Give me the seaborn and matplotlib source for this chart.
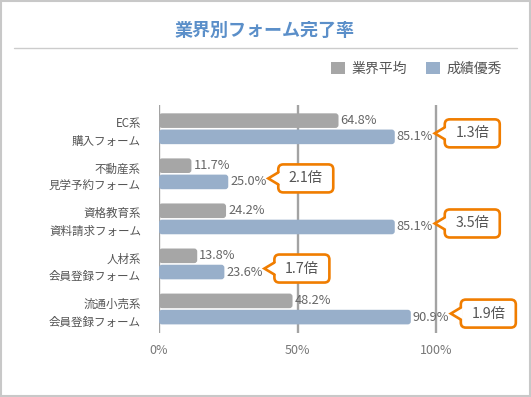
import pandas as pd
import matplotlib.pyplot as plt
import matplotlib.transforms as mtransforms
from matplotlib.patches import FancyBboxPatch, Polygon, Rectangle, Patch
from matplotlib.lines import Line2D
import seaborn as sns

sns.set_style("white")
plt.rcParams['font.family'] = ['Noto Sans CJK JP', 'DejaVu Sans']

# ----- data -----
categories = ["EC系\n購入フォーム", "不動産系\n見学予約フォーム", "資格教育系\n資料請求フォーム",
              "人材系\n会員登録フォーム", "流通小売系\n会員登録フォーム"]
industry_avg = [64.8, 11.7, 24.2, 13.8, 48.2]
top_performer = [85.1, 25.0, 85.1, 23.6, 90.9]
ratio_labels = ["1.3倍", "2.1倍", "3.5倍", "1.7倍", "1.9倍"]
series_names = ["業界平均", "成績優秀"]
x_ticks = [0, 50, 100]

GRAY = "#a6a6a6"
BLUE = "#98afca"
ORANGE = "#f07d00"
TEXT = "#666666"

df = pd.DataFrame({
    "category": categories * 2,
    "value": industry_avg + top_performer,
    "series": [series_names[0]] * len(categories) + [series_names[1]] * len(categories),
})

fig = plt.figure(figsize=(5.31, 3.97), dpi=100)
ax = fig.add_axes([159 / 531, 1 - 333 / 397, 354.6 / 531, 228 / 397])

sns.barplot(data=df, y="category", x="value", hue="series", orient="h",
            palette=[GRAY, BLUE], width=0.72, gap=0.1, ax=ax, legend=False,
            saturation=1)

ax.set_xlim(0, 128)
ax.set_ylim(4.533, -0.527)
ax.set_xticks(x_ticks)
ax.set_xticklabels([f"{t}%" for t in x_ticks])
ax.set_xlabel("")
ax.set_ylabel("")
for s in ax.spines.values():
    s.set_visible(False)
ax.xaxis.grid(True, color="#a3a3a3", lw=1.7)
ax.set_axisbelow(True)
ax.tick_params(axis="x", length=0, pad=8, labelsize=9, labelcolor="#777777")
ax.tick_params(axis="y", length=0, pad=13, labelsize=8.3, labelcolor="#555555")
for lab in ax.get_yticklabels():
    lab.set_linespacing(1.5)
    lab.set_horizontalalignment("right")

# ----- rounded bars + value labels -----
bars = list(ax.patches)
n = len(categories)
x_px = ax.bbox.width / (ax.get_xlim()[1] - ax.get_xlim()[0])
y_px = ax.bbox.height / abs(ax.get_ylim()[0] - ax.get_ylim()[1])
for b in bars[:2 * n]:
    x0, y0, w, h = b.get_x(), b.get_y(), b.get_width(), b.get_height()
    b.set_visible(False)
    ax.add_patch(FancyBboxPatch((x0, y0), w, h, boxstyle=f"round,pad=0,rounding_size={3 / x_px}",
                                mutation_aspect=x_px / y_px, fc=b.get_facecolor(),
                                ec="none", zorder=2))
    yc = y0 + h / 2
    tr = mtransforms.offset_copy(ax.transData, fig=fig, x=2, y=0, units="dots")
    ax.text(w, yc, f"{w:.1f}%", transform=tr, ha="left", va="center",
            fontsize=9.2, color=TEXT)

# ----- callouts -----
for i, b in enumerate(bars[n:2 * n]):
    v = b.get_width()
    yc = b.get_y() + b.get_height() / 2
    tr = mtransforms.Affine2D() + mtransforms.ScaledTranslation(v, yc, ax.transData)
    left, right, cy, h, tip = 50, 105, 3.5, 28, 40
    box = FancyBboxPatch((left, cy - h / 2), right - left, h,
                         boxstyle="round,pad=0,rounding_size=5",
                         fc="white", ec=ORANGE, lw=1.9, transform=tr,
                         clip_on=False, zorder=5)
    ax.add_artist(box)
    cover = Polygon([(left + 2, cy - 6), (tip, cy), (left + 2, cy + 6)],
                    closed=True, fc="white", ec="none", transform=tr,
                    clip_on=False, zorder=6)
    ax.add_artist(cover)
    ax.add_line(Line2D([left, tip, left], [cy - 6, cy, cy + 6], color=ORANGE,
                       lw=1.9, transform=tr, clip_on=False, zorder=7,
                       solid_joinstyle="miter"))
    ttr = mtransforms.offset_copy(ax.transData, fig=fig, x=(left + right) / 2,
                                  y=cy, units="dots")
    ax.text(v, yc, ratio_labels[i], transform=ttr, ha="center", va="center",
            fontsize=10.3, color="#555555", zorder=8)

# ----- legend -----
handles = [Patch(facecolor=GRAY, edgecolor="none"), Patch(facecolor=BLUE, edgecolor="none")]
fig.legend(handles, series_names, loc="center right", bbox_to_anchor=(502 / 531, 1 - 68.5 / 397),
           ncol=2, frameon=False, handlelength=1.0, handleheight=1.0,
           handletextpad=0.45, columnspacing=1.4, fontsize=10, labelcolor="#555555",
           borderaxespad=0, borderpad=0)

# ----- title and frame -----
fig.text(265 / 531, 1 - 30 / 397, "業界別フォーム完了率", ha="center", va="center",
         fontsize=13, color="#5b8fc9", fontweight="bold")
fig.add_artist(Line2D([14 / 531, 517 / 531], [1 - 48 / 397] * 2, color="#cccccc",
                      lw=1, transform=fig.transFigure))
fig.add_artist(Rectangle((0.001, 0.002), 0.997, 0.996, transform=fig.transFigure,
                         fill=False, ec="#c8c8c8", lw=1.5))

fig.savefig("out.png", dpi=100)
